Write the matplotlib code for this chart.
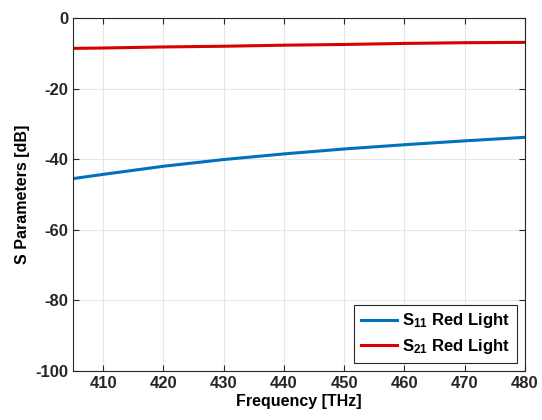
import matplotlib
matplotlib.use("Agg")
import matplotlib.pyplot as plt

plt.rcParams["font.family"] = ["Liberation Sans", "DejaVu Sans"]
plt.rcParams["font.weight"] = "bold"
plt.rcParams["axes.unicode_minus"] = False
plt.rcParams["mathtext.fontset"] = "custom"
plt.rcParams["mathtext.bf"] = "Liberation Sans:bold"
plt.rcParams["mathtext.rm"] = "Liberation Sans:bold"
plt.rcParams["mathtext.default"] = "bf"

freq = [405, 410, 420, 430, 440, 450, 460, 470, 480]
s11 = [-45.5, -44.3, -42.0, -40.1, -38.5, -37.1, -35.9, -34.8, -33.8]
s21 = [-8.6, -8.5, -8.2, -8.0, -7.7, -7.5, -7.2, -7.0, -6.9]

fig = plt.figure(figsize=(5.42, 4.2), dpi=100)
ax = fig.add_axes([73 / 542, 1 - 371 / 420, 452 / 542, 353 / 420])

ax.plot(freq, s11, color="#0072BD", lw=2.2, label=r"S$_{11}$ Red Light")
ax.plot(freq, s21, color="#D90000", lw=2.2, label=r"S$_{21}$ Red Light")

ax.set_xlim(405, 480)
ax.set_ylim(-100, 0)
ax.set_xticks(range(410, 481, 10))
ax.set_yticks(range(-100, 1, 20))
ax.grid(True, color="#e6e6e6", lw=0.8)
ax.tick_params(direction="in", length=4, labelsize=12, top=True, right=True,
               labeltop=False, labelright=False, colors="#262626")
for lab in ax.get_xticklabels() + ax.get_yticklabels():
    lab.set_fontweight("bold")
for sp in ax.spines.values():
    sp.set_color("#262626")
    sp.set_linewidth(0.8)

ax.set_xlabel("Frequency [THz]", fontsize=11.5, fontweight="bold", labelpad=2)
ax.set_ylabel("S Parameters [dB]", fontsize=11.5, fontweight="bold")

leg = ax.legend(loc="lower right", fontsize=12, fancybox=False, framealpha=1,
                edgecolor="#262626", handlelength=2.2, handletextpad=0.3,
                borderaxespad=0.5, labelspacing=0.4)
leg.get_frame().set_linewidth(0.8)
for t in leg.get_texts():
    t.set_fontweight("bold")

fig.savefig("out.png", dpi=100)
